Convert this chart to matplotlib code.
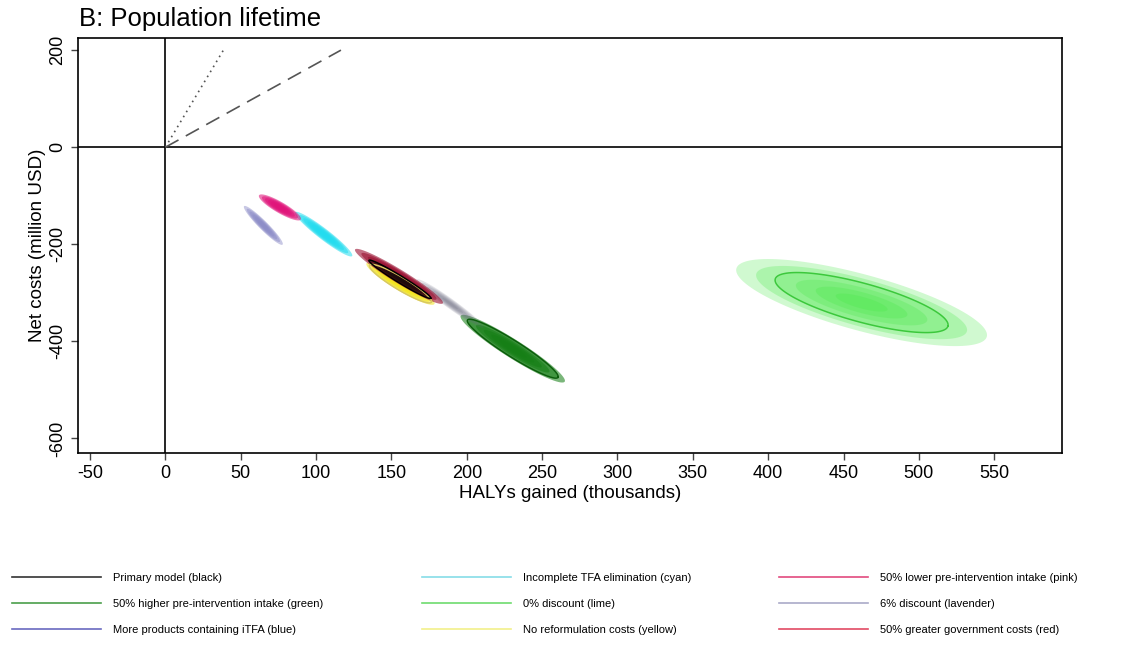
import matplotlib
matplotlib.use("Agg")
import matplotlib.pyplot as plt
from matplotlib.lines import Line2D
import numpy as np

plt.rcParams['font.family'] = ['Liberation Sans', 'DejaVu Sans']
plt.rcParams['axes.unicode_minus'] = False

# Scenario clouds (HALYs in thousands, costs in million USD)
# centre, half major axis vector, half minor axis vector
scenarios = ['Primary model (black)', '50% higher pre-intervention intake (green)',
             'More products containing iTFA (blue)', 'Incomplete TFA elimination (cyan)',
             '0% discount (lime)', 'No reformulation costs (yellow)',
             '50% lower pre-intervention intake (pink)', '6% discount (lavender)',
             '50% greater government costs (red)']
centre_x = [155.6, 230.5, 189.0, 105.0, 462.0, 156.0, 76.0, 65.0, 155.0]
centre_y = [-272, -415, -322, -179, -320, -281, -124, -161, -266]
major_dx = [20.5, 30.0, 17.0, 17.2, 57.3, 20.5, 12.6, 11.6, 26.0]
major_dy = [-39, -59, -38, -41, -48.5, -38, -22.7, -36, -49.5]
minor_dx = [1.2, 2.8, 1.5, 2.0, 3.4, 2.0, 1.7, 1.9, 2.1]
minor_dy = [6.1, 14.0, 6.0, 8.2, 38.4, 11.5, 8.9, 5.8, 10.5]

cloud_colors = ['#1a0a0a', '#157f15', '#6a6a80', '#22dcef', '#44e844',
                '#f2e41c', '#e0147a', '#8c8cc8', '#9a1030']
legend_colors = ['#333333', '#4a9e4a', '#6a6ac0', '#86dde8', '#6edc6e',
                 '#f2f08a', '#e24a7e', '#aaaac8', '#e24a64']
# cloud spread relative to the drawn outline, and how opaque the cloud is
spread = [1.0, 1.15, 1.3, 1.1, 1.45, 1.1, 1.1, 1.1, 1.12]
density = [0.75, 0.95, 0.3, 0.9, 0.42, 0.9, 0.95, 0.8, 1.0]
draw_outline = [True, True, False, False, True, True, False, False, False]
outline_colors = ['#000000', '#0b5e0b', None, None, '#3cc83c', '#d8c860', None, None, None]

# willingness-to-pay lines from origin
wtp_end_x = [38.5, 116.5]
wtp_end_y = [200, 200]
wtp_styles = [(0, (1, 2.5)), (0, (9, 5))]

x_ticks = list(range(-50, 551, 50))
y_ticks = [-600, -400, -200, 0, 200]

draw_order = [4, 1, 2, 5, 8, 0, 3, 6, 7]


def ellipse_xy(i, s=1.0):
    t = np.linspace(0, 2 * np.pi, 120)
    xs = centre_x[i] + s * (major_dx[i] * np.cos(t) + minor_dx[i] * np.sin(t))
    ys = centre_y[i] + s * (major_dy[i] * np.cos(t) + minor_dy[i] * np.sin(t))
    return xs, ys


fig = plt.figure(figsize=(11.35, 6.53), dpi=100)
ax = fig.add_axes([0.0687, 0.3062, 0.8670, 0.6356])

# clouds as layered fills, denser towards the middle
for i in draw_order:
    for s in np.linspace(spread[i], 0.3, 6):
        xs, ys = ellipse_xy(i, s)
        ax.fill(xs, ys, color=cloud_colors[i], alpha=density[i] * 0.6, lw=0, zorder=2)
    if draw_outline[i]:
        xs, ys = ellipse_xy(i, 1.0)
        ax.plot(xs, ys, color=outline_colors[i], lw=1.1, zorder=3)

ax.axhline(0, color='black', lw=1.2, zorder=1)
ax.axvline(0, color='black', lw=1.2, zorder=1)
for ex, ey, ls in zip(wtp_end_x, wtp_end_y, wtp_styles):
    ax.plot([0, ex], [0, ey], color='#555555', lw=1.2, linestyle=ls, zorder=1)

ax.set_xlim(-58, 595)
ax.set_ylim(-630, 225)
ax.set_xticks(x_ticks)
ax.set_yticks(y_ticks)
ax.tick_params(direction='out', length=5, width=1, labelsize=13, color='#444444')
for lab in ax.get_yticklabels():
    lab.set_rotation(90)
    lab.set_va('center')
for sp in ax.spines.values():
    sp.set_linewidth(1.2)

ax.set_xlabel('HALYs gained (thousands)', fontsize=13.5, labelpad=2)
ax.set_ylabel('Net costs (million USD)', fontsize=13.5, labelpad=2)
fig.text(0.070, 0.952, 'B: Population lifetime', fontsize=18.5, ha='left', va='bottom')

# legend: three columns placed separately
col_x = [0.0106, 0.3718, 0.6863]
for c in range(3):
    idx = [c * 3, c * 3 + 1, c * 3 + 2]
    handles = [Line2D([0], [0], color=legend_colors[i], lw=1.2) for i in idx]
    fig.legend(handles, [scenarios[i] for i in idx], loc='center left',
               bbox_to_anchor=(col_x[c], 0.075), frameon=False, fontsize=8,
               handlelength=8.0, handletextpad=1.1, labelspacing=1.45,
               borderpad=0, borderaxespad=0)

fig.savefig('out.png', dpi=100)
